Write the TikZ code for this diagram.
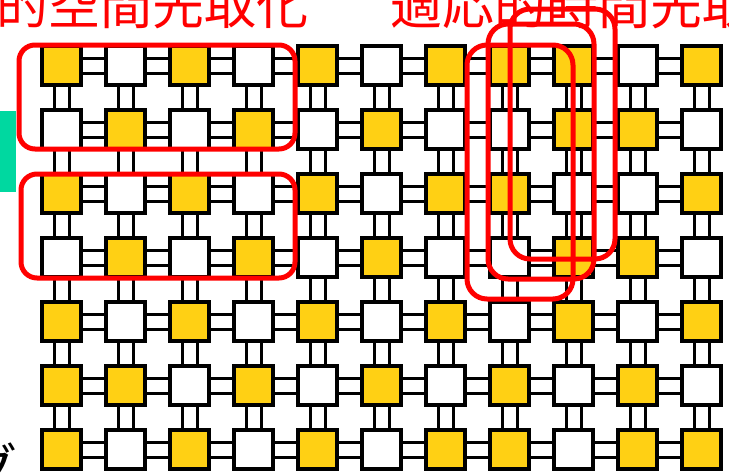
\documentclass[tikz,border=0pt]{standalone}
\usepackage{fontspec}
\newfontfamily\jp{Noto Sans CJK JP}
\definecolor{Y}{RGB}{255,208,20}
\definecolor{W}{RGB}{255,255,255}
\definecolor{tealbar}{RGB}{0,216,160}
\definecolor{grpred}{RGB}{255,0,0}
\begin{document}
\begin{tikzpicture}[x=1pt,y=-1pt,
  cell/.style={draw=black,line width=4.8pt,fill=#1,minimum size=39pt,inner sep=0pt,outer sep=0pt},
  link/.style={line width=3pt,black},
  grp/.style={draw=grpred,line width=5pt,rounded corners=16pt},
  tallgrp/.style={grp,rounded corners=20pt},
  title/.style={text=grpred,font=\jp\fontsize{52}{52}\selectfont,inner sep=0pt,anchor=base west}]
\useasboundingbox (0,0) rectangle (729,475);
\clip (0,0) rectangle (729,475);
% title fragments
\node[title] (t1) at (-56,24) {静的空間先取化};
\node[title] (t2) at (390,24) {適応的時間先取化};
% side bar
\fill[tealbar] (0,111) rectangle (15.5,192);
% grid of cells
\foreach \r [count=\j] in {
  {Y,W,Y,W,Y,W,Y,Y,Y,W,Y},
  {W,Y,W,Y,W,Y,W,W,Y,Y,W},
  {Y,W,Y,W,Y,W,Y,Y,W,W,Y},
  {W,Y,W,Y,W,Y,W,W,Y,Y,W},
  {Y,W,Y,W,Y,W,Y,W,Y,W,Y},
  {Y,Y,W,Y,W,Y,W,Y,W,Y,W},
  {Y,W,Y,W,Y,W,Y,Y,W,Y,Y}} {
  \foreach \c [count=\i] in \r {
    \node[cell=\c] (s-\i-\j) at ({61.5+64*(\i-1)},{65.5+64*(\j-1)}) {};
  }
}
% horizontal links
\foreach \i in {1,...,10} {
  \pgfmathtruncatemacro\k{\i+1}
  \foreach \j in {1,...,7} {
    \draw[link] ([yshift=7.5pt]s-\i-\j.east) -- ([yshift=7.5pt]s-\k-\j.west);
    \draw[link] ([yshift=-7.5pt]s-\i-\j.east) -- ([yshift=-7.5pt]s-\k-\j.west);
  }
}
% vertical links
\foreach \j in {1,...,6} {
  \pgfmathtruncatemacro\k{\j+1}
  \foreach \i in {1,...,11} {
    \draw[link] ([xshift=-7.5pt]s-\i-\j.south) -- ([xshift=-7.5pt]s-\i-\k.north);
    \draw[link] ([xshift=7.5pt]s-\i-\j.south) -- ([xshift=7.5pt]s-\i-\k.north);
  }
}
% red groupings
\draw[grp] (19,45) rectangle (295,149);
\draw[grp] (21,174) rectangle (295,278);
\draw[tallgrp] (467,45) rectangle (573,299);
\draw[tallgrp] (488,24) rectangle (594,279);
\draw[tallgrp] (510,9) rectangle (615,259);
% partial glyph at lower left
\node[inner sep=0pt,anchor=base east,font=\jp\fontsize{52}{52}\selectfont] (g) at (18,486) {グ};
\end{tikzpicture}
\end{document}
